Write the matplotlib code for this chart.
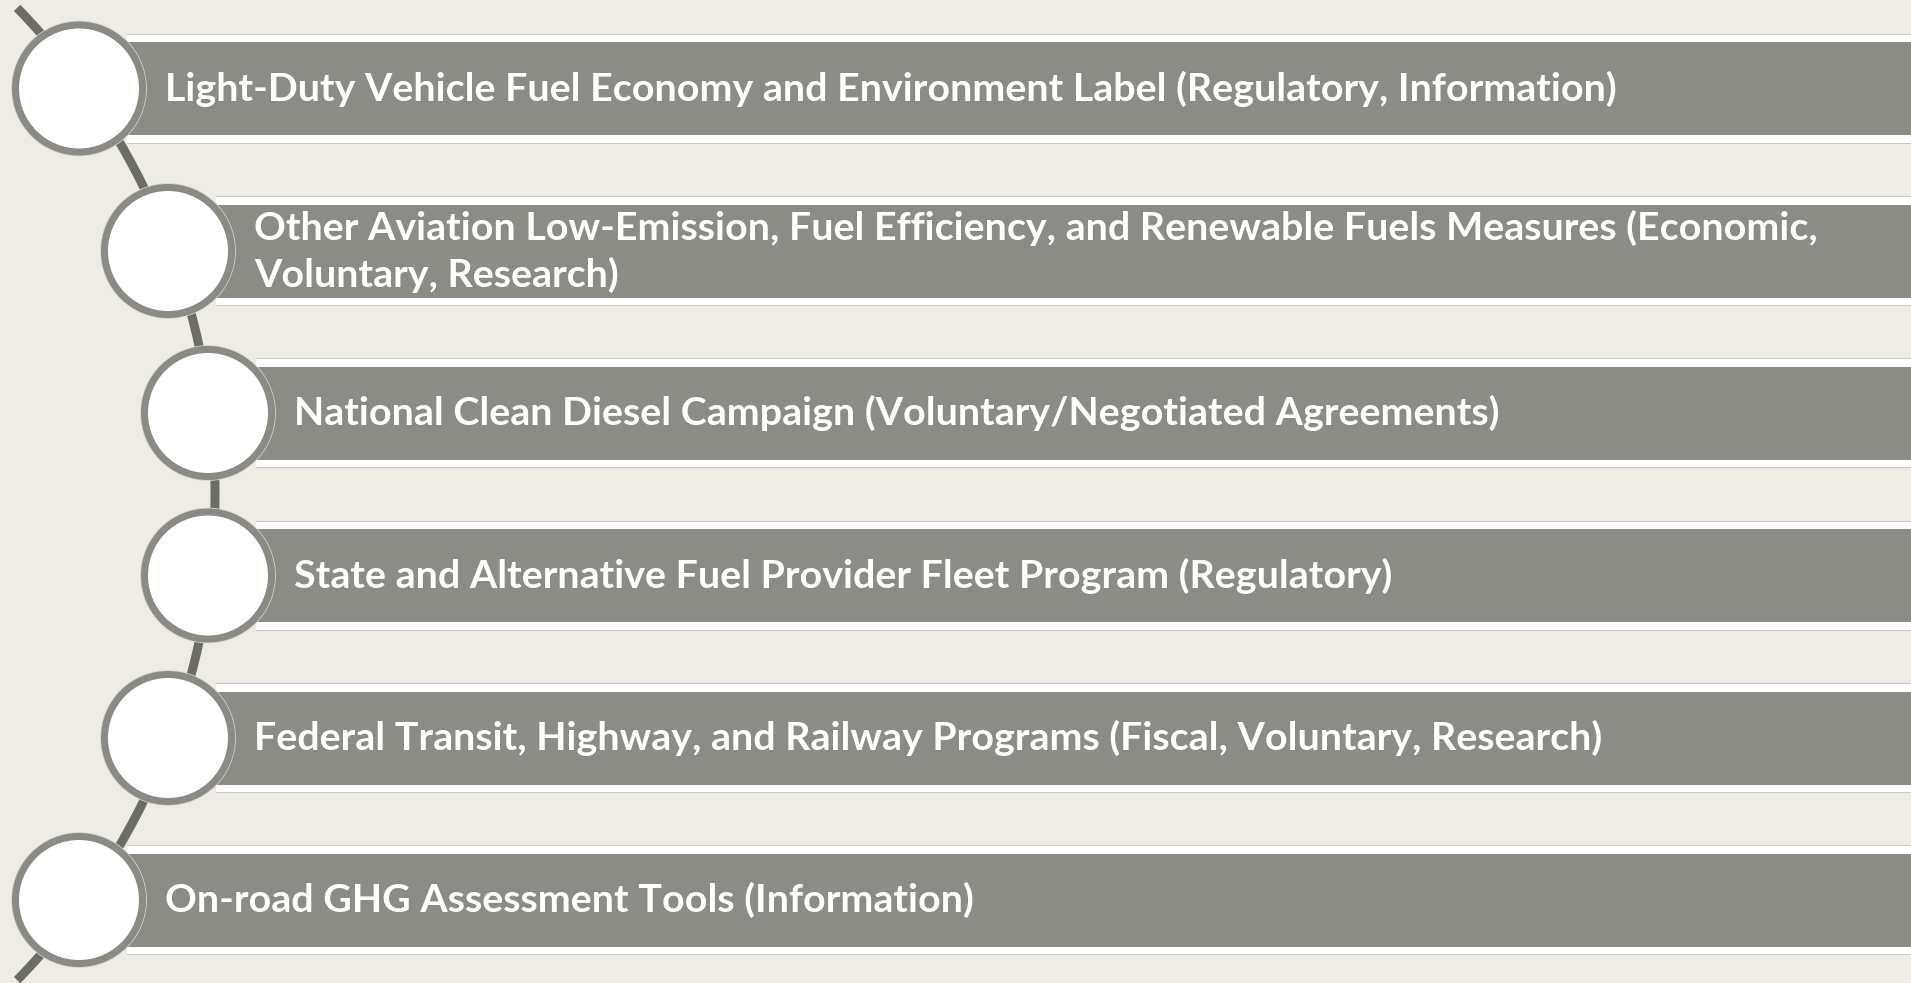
import matplotlib.pyplot as plt
from matplotlib.patches import Rectangle, Circle, Arc

# etiquetas das barras (de cima para baixo)
rotulos = [
    "Light-Duty Vehicle Fuel Economy and Environment Label (Regulatory, Information)",
    "Other Aviation Low-Emission, Fuel Efficiency, and Renewable Fuels Measures (Economic,\nVoluntary, Research)",
    "National Clean Diesel Campaign (Voluntary/Negotiated Agreements)",
    "State and Alternative Fuel Provider Fleet Program (Regulatory)",
    "Federal Transit, Highway, and Railway Programs (Fiscal, Voluntary, Research)",
    "On-road GHG Assessment Tools (Information)",
]

# layout (em pixels da figura 1911x983)
W, H = 1911, 983
centro_y = [88.5, 251, 413, 575.5, 738, 900]
centro_x = [79, 168, 208, 208, 168, 79]
raio = 63.5

fundo = '#eeece5'
cinza = '#8b8c85'
anel = '#8a8b84'
linha = '#6c6d67'

fig = plt.figure(figsize=(W / 100, H / 100), dpi=100)
fig.patch.set_facecolor(fundo)
ax = fig.add_axes([0, 0, 1, 1])
ax.set_xlim(0, W)
ax.set_ylim(H, 0)
ax.axis('off')
ax.set_facecolor(fundo)

# barras
for cx, cy in zip(centro_x, centro_y):
    x0 = cx + 48
    ax.add_patch(Rectangle((x0, cy - 55), W, 110, fc='#c9c9c4', ec='none', zorder=1))
    ax.add_patch(Rectangle((x0, cy - 54), W, 108, fc='white', ec='none', zorder=1.1))
    ax.add_patch(Rectangle((x0, cy - 46.5), W, 93, fc=cinza, ec='none', zorder=1.2))

# arco que liga os circulos
ax.add_patch(Arc((-481, 494), 2 * 696, 2 * 696, theta1=-44.3, theta2=44.3,
                 color=linha, lw=9 * 0.72, zorder=2))

# circulos
for cx, cy in zip(centro_x, centro_y):
    ax.add_patch(Circle((cx, cy), 67.3, fc='none', ec='#d6d6d1', lw=0.8, zorder=2.5))
    ax.add_patch(Circle((cx, cy), raio, fc='white', ec=anel, lw=7 * 0.72, zorder=3))

# textos
for cx, cy, txt in zip(centro_x, centro_y, rotulos):
    ax.text(cx + 86, cy, txt, color='white', fontsize=28.4, fontweight='bold',
            family=['Lato', 'DejaVu Sans'], va='center', ha='left',
            linespacing=1.36, zorder=4)

fig.savefig('out.png', dpi=100, facecolor=fundo)
